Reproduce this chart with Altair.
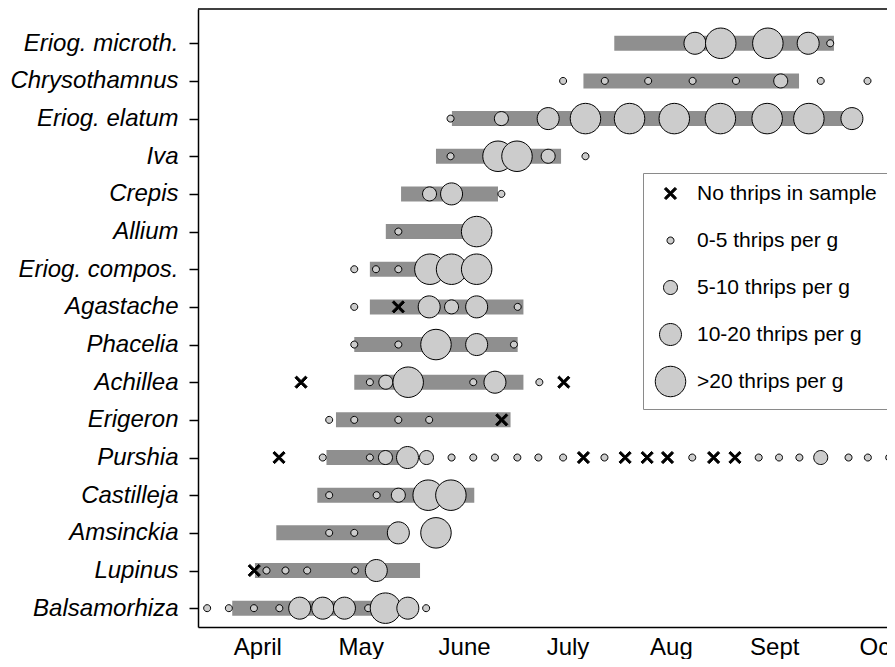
import json
import altair as alt
import pandas as pd

FONT = "Liberation Sans"

# species, top to bottom
species = ["Eriog. microth.", "Chrysothamnus", "Eriog. elatum", "Iva", "Crepis", "Allium",
           "Eriog. compos.", "Agastache", "Phacelia", "Achillea", "Erigeron", "Purshia",
           "Castilleja", "Amsinckia", "Lupinus", "Balsamorhiza"]

# flowering period (days from early April)
bar_start = [105.3, 96.2, 57.4, 52.7, 42.4, 37.9, 33.2, 33.2, 28.6, 28.6, 23.2, 20.4, 17.7, 5.6, -0.7, -7.4]
bar_end = [170.1, 159.8, 173.0, 89.6, 71.0, 64.5, 64.5, 78.5, 76.8, 78.5, 74.7, 46.5, 64.0, 40.6, 48.0, 34.7]

# sample dates per species
point_days = [
    [129.1, 136.7, 150.6, 162.5, 169.0],
    [90.2, 102.5, 115.3, 128.4, 141.2, 154.4, 166.2, 180.0],
    [57.0, 72.0, 85.8, 96.8, 109.8, 123.0, 136.6, 150.4, 162.7, 175.4],
    [57.0, 71.0, 76.6, 85.8, 96.8],
    [50.8, 57.3, 72.0],
    [41.6, 64.7],
    [28.6, 35.0, 41.6, 50.9, 57.3, 64.7],
    [28.6, 41.6, 50.7, 57.3, 64.7, 76.8],
    [28.6, 41.6, 52.7, 64.7, 75.7],
    [12.9, 33.2, 37.9, 44.5, 63.7, 70.1, 83.2, 90.4],
    [21.2, 28.6, 41.6, 50.7, 72.1],
    [6.4, 19.3, 33.2, 37.8, 44.3, 49.9, 57.3, 63.7, 70.1, 76.7, 82.9, 90.2, 96.2, 102.4,
     108.5, 115.0, 121.0, 128.3, 134.6, 140.9, 147.9, 153.9, 159.9, 166.2, 174.4, 180.1, 186.4],
    [21.2, 35.2, 41.6, 50.4, 57.1],
    [21.2, 28.6, 41.6, 52.7],
    [-0.9, 2.7, 8.3, 14.7, 28.8, 35.1],
    [-14.8, -8.4, -1.0, 6.5, 12.5, 19.3, 25.7, 32.7, 37.8, 44.4, 49.8],
]
# thrips density class per sample: x = none, s = 0-5, m = 5-10, l = 10-20, xl = >20
point_class = [
    "l xl xl l s",
    "s s s s s m s s",
    "s m l xl xl xl xl xl xl l",
    "s xl xl m s",
    "m l s",
    "s xl",
    "s s s xl xl xl",
    "s x l m l s",
    "s s xl l s",
    "x s m xl s l s x",
    "s s s s x",
    "x s s m l m s s s s s s x s x x x s x x s s s m s s s",
    "s s m xl xl",
    "s s l xl",
    "x s s s s l",
    "s s s s l l l s xl l s",
]

class_codes = ["x", "s", "m", "l", "xl"]
class_labels = ["No thrips in sample", "0-5 thrips per g", "5-10 thrips per g",
                "10-20 thrips per g", ">20 thrips per g"]
# symbol radii in units of the base symbol (base size 100 -> 5 px per unit)
class_radius = [None, 0.7, 1.4, 2.2, 3.05]
class_fill = ["black", "#cccccc", "#cccccc", "#cccccc", "#cccccc"]


def circle_path(r):
    return f"M{r},0A{r},{r} 0 1,1 {-r},0A{r},{r} 0 1,1 {r},0Z"


def cross_path(a, w):
    pts = [(-a, -a + w), (-a + w, -a), (0, -w), (a - w, -a), (a, -a + w), (w, 0),
           (a, a - w), (a - w, a), (0, w), (-a + w, a), (-a, a - w), (-w, 0)]
    return "M" + "L".join(f"{x:.3f},{y:.3f}" for x, y in pts) + "Z"


class_shapes = [cross_path(1.22, 0.34)] + [circle_path(r) for r in class_radius[1:]]

months = ["April", "May", "June", "July", "Aug", "Sept", "Oct"]
month_pos = [0, 30.5, 61, 91.5, 122, 152.5, 183]

n = len(species)
bars_df = pd.DataFrame({
    "species": species,
    "row": [n - i for i in range(n)],
    "day": bar_start,
    "end": bar_end,
})
code_to_label = dict(zip(class_codes, class_labels))
rows = []
for i, (days, cls) in enumerate(zip(point_days, point_class)):
    codes = cls.split()
    assert len(codes) == len(days), species[i]
    for d, c in zip(days, codes):
        rows.append({"species": species[i], "row": n - i, "day": d, "cls": code_to_label[c]})
pts_df = pd.DataFrame(rows)

W, H = 689, 618
xscale = alt.Scale(domain=[-17.5, 185.75], nice=False, zero=False)
yscale = alt.Scale(domain=[0.5, 16.91], nice=False, zero=False)

names_bottom_up = list(reversed(species))
x_axis = alt.Axis(values=month_pos,
                  labelExpr=f"{json.dumps(months)}[round(datum.value / 30.5)]",
                  ticks=False, grid=False, domainColor="black", domainWidth=1.5,
                  labelFont=FONT, labelFontSize=24, labelColor="black",
                  labelPadding=8, labelFlush=False, labelOverlap=False, labelBound=False,
                  title=None)
y_axis = alt.Axis(values=list(range(1, n + 1)),
                  labelExpr=f"{json.dumps(names_bottom_up)}[datum.value - 1]",
                  tickSize=9, tickWidth=1.5, tickColor="black",
                  domainColor="black", domainWidth=1.5, grid=False,
                  labelFont=FONT, labelFontSize=24, labelFontStyle="italic",
                  labelColor="black", labelPadding=11, labelOverlap=False, title=None)

bars = alt.Chart(bars_df).mark_rule(strokeWidth=15, color="#8f8f8f", strokeCap="butt").encode(
    x=alt.X("day:Q", scale=xscale, axis=x_axis),
    x2="end:Q",
    y=alt.Y("row:Q", scale=yscale, axis=y_axis),
)

legend = alt.Legend(orient="none", legendX=445, legendY=164, title=None,
                    padding=10, rowPadding=12, gridAlign="all",
                    symbolSize=100, symbolOffset=7, symbolStrokeWidth=1,
                    strokeColor="#8a8a8a", fillColor="white", labelLimit=400,
                    labelFont=FONT, labelFontSize=21, labelColor="black", labelOffset=16)

points = alt.Chart(pts_df).mark_point(filled=True, size=100, stroke="black", strokeWidth=1,
                                      opacity=1).encode(
    x=alt.X("day:Q", scale=xscale),
    y=alt.Y("row:Q", scale=yscale),
    shape=alt.Shape("cls:N", scale=alt.Scale(domain=class_labels, range=class_shapes),
                    legend=legend, title=None),
    fill=alt.Fill("cls:N", scale=alt.Scale(domain=class_labels, range=class_fill), title=None),
)

border = alt.Chart(pd.DataFrame({"k": [0]})).mark_rule(color="black", strokeWidth=1.5).encode(
    x=alt.value(0), x2=alt.value(W), y=alt.value(0)
)

chart = alt.layer(bars, points, border).properties(
    width=W, height=H,
    autosize=alt.AutoSizeParams(type="none"),
    padding={"left": 190, "top": 1, "right": 0, "bottom": 32},
).configure_view(stroke=None)

chart.save("out.html", embed_options={"renderer": "svg", "actions": False})
